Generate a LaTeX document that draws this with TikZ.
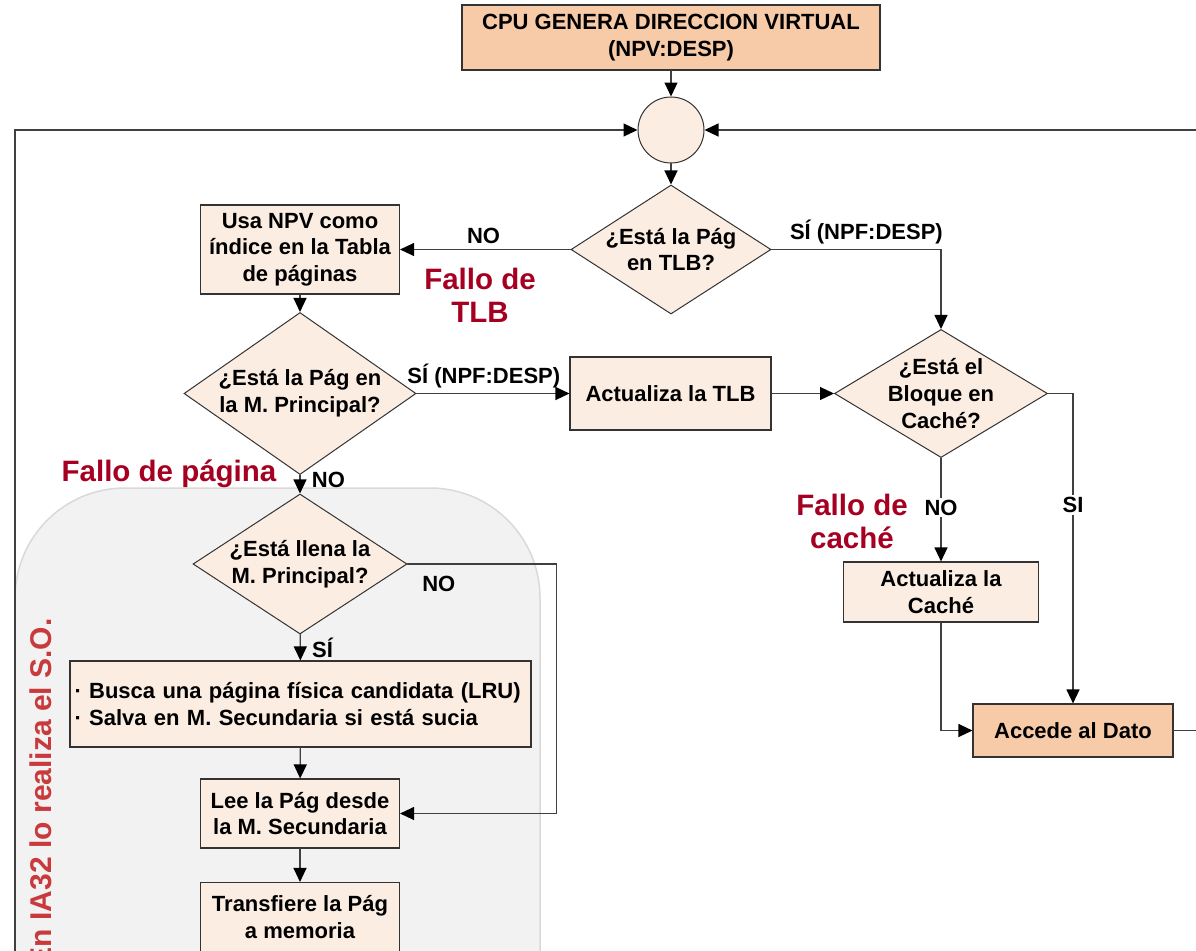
\documentclass[tikz,border=0pt]{standalone}
\usepackage{fontspec}
\setmainfont{Liberation Sans}
\usetikzlibrary{arrows.meta,shapes.geometric}
\definecolor{peach}{RGB}{248,203,168}
\definecolor{peachlight}{RGB}{252,237,227}
\definecolor{fallo}{RGB}{165,0,33}
\definecolor{sored}{RGB}{200,58,60}

\begin{document}
\begin{tikzpicture}[x=1pt,y=-1pt,>={Triangle[length=14pt,width=13pt,color=black]},
				line cap=round,
				every node/.style={font=\fontsize{22}{26.7}\selectfont\bfseries},
				paso/.style={rectangle,draw=black!80,line width=1.1pt,fill=peachlight,align=center,inner sep=0pt},
				pregunta/.style={diamond,draw=black!80,line width=1pt,fill=peachlight,align=center,inner sep=-12pt},
				flujo/.style={draw=black!75,line width=1.1pt},
				fallo/.style={text=fallo,align=center,font=\fontsize{29.5}{33}\selectfont\bfseries}]
				\useasboundingbox (0,0) rectangle (1196,950);
				% zona del S.O.
				\filldraw[fill=black!5,draw=black!15,line width=1.5pt,rounded corners=110pt] (15,488) rectangle (540,1150);
				\node[rotate=90,anchor=east,text=sored,font=\fontsize{30}{34}\selectfont\bfseries] (so) at (41,615) {En IA32 lo realiza el S.O.};
				
				\node[paso,fill=peach,minimum width=418pt,minimum height=65pt] (cpu) at (671,37.5) {CPU GENERA DIRECCION VIRTUAL\\(NPV:DESP)};
				\node[circle,draw=black!80,line width=1pt,fill=peachlight,minimum size=66pt,inner sep=0pt] (junc) at (671,130) {};
				\node[pregunta,minimum width=200pt,minimum height=129pt] (tlb) at (671,249.5) {¿Está la Pág\\en TLB?};
				\node[paso,minimum width=199pt,minimum height=89pt] (tabla) at (300,249.5) {Usa NPV como\\índice en la Tabla\\de páginas};
				\node[pregunta,minimum width=232pt,minimum height=137pt] (mp) at (300,393.5) {¿Está la Pág en\\la M. Principal?};
				\node[paso,minimum width=201pt,minimum height=73pt] (acttlb) at (670.5,393.5) {Actualiza la TLB};
				\node[pregunta,minimum width=213pt,minimum height=128pt] (cache) at (941,393.5) {¿Está el\\Bloque en\\Caché?};
				\node[paso,minimum width=195pt,minimum height=60pt] (actcache) at (941,592) {Actualiza la\\Caché};
				\node[paso,fill=peach,minimum width=200pt,minimum height=53pt] (dato) at (1073,730.5) {Accede al Dato};
				\node[pregunta,minimum width=214pt,minimum height=124pt] (llena) at (300,564) {¿Está llena la\\M. Principal?};
				\node[paso,align=left,text width=452pt,inner xsep=4.5pt,minimum height=86pt] (busca) at (300.5,704) {· Busca una página física candidata (LRU)\\· Salva en M. Secundaria si está sucia};
				\node[paso,minimum width=199pt,minimum height=69pt] (lee) at (300,813.5) {Lee la Pág desde\\la M. Secundaria};
				\node[paso,minimum width=199pt,minimum height=69pt] (transf) at (300,917) {Transfiere la Pág\\a memoria};
				
				\node[fallo] (ftlb) at (480,295) {Fallo de\\TLB};
				\node[fallo] (fpag) at (169,474) {Fallo de página};
				\node[fallo] (fcache) at (852,521) {Fallo de\\caché};
				
				\coordinate (outl) at (15,1000);
				\coordinate (outr) at (1200,130);
				\coordinate (outd) at (1200,730.5);
				
				\draw[flujo,->] (cpu) -- (junc);
				\draw[flujo,->] (outl) |- (junc.west);
				\draw[flujo,->] (outr) -- (junc.east);
				\draw[flujo,->] (junc) -- (tlb);
				\draw[flujo,->] (tlb.west) -- node[above=2pt,pos=0.51]{NO} (tabla.east);
				\draw[flujo,->] (tlb.east) -| node[above=2pt,pos=0.28]{SÍ (NPF:DESP)} (cache.north);
				\draw[flujo,->] (tabla) -- (mp);
				\draw[flujo,->] (mp.east) -- node[above=2pt,pos=0.44]{SÍ (NPF:DESP)} (acttlb.west);
				\draw[flujo,->] (acttlb) -- (cache);
				\draw[flujo,->] (cache.east) -| node[pos=0.68,fill=white,inner sep=2pt]{SI} (dato.north);
				\draw[flujo,->] (cache) -- node[pos=0.48,fill=white,inner sep=2pt]{NO} (actcache);
				\draw[flujo,->] (actcache.south) |- (dato.west);
				\draw[flujo] (dato.east) -- (outd);
				\draw[flujo,->] (mp) -- node[pos=0.25,right=8pt]{NO} (llena);
				\draw[flujo,->] (llena.east) -- node[pos=0.21,below=8pt]{NO} ++(149,0) |- (lee.east);
				\draw[flujo,->] (llena) -- node[pos=0.5,right=8pt]{SÍ} (busca);
				\draw[flujo,->] (busca) -- (lee);
				\draw[flujo,->] (lee) -- (transf);
			\end{tikzpicture}
\end{document}
